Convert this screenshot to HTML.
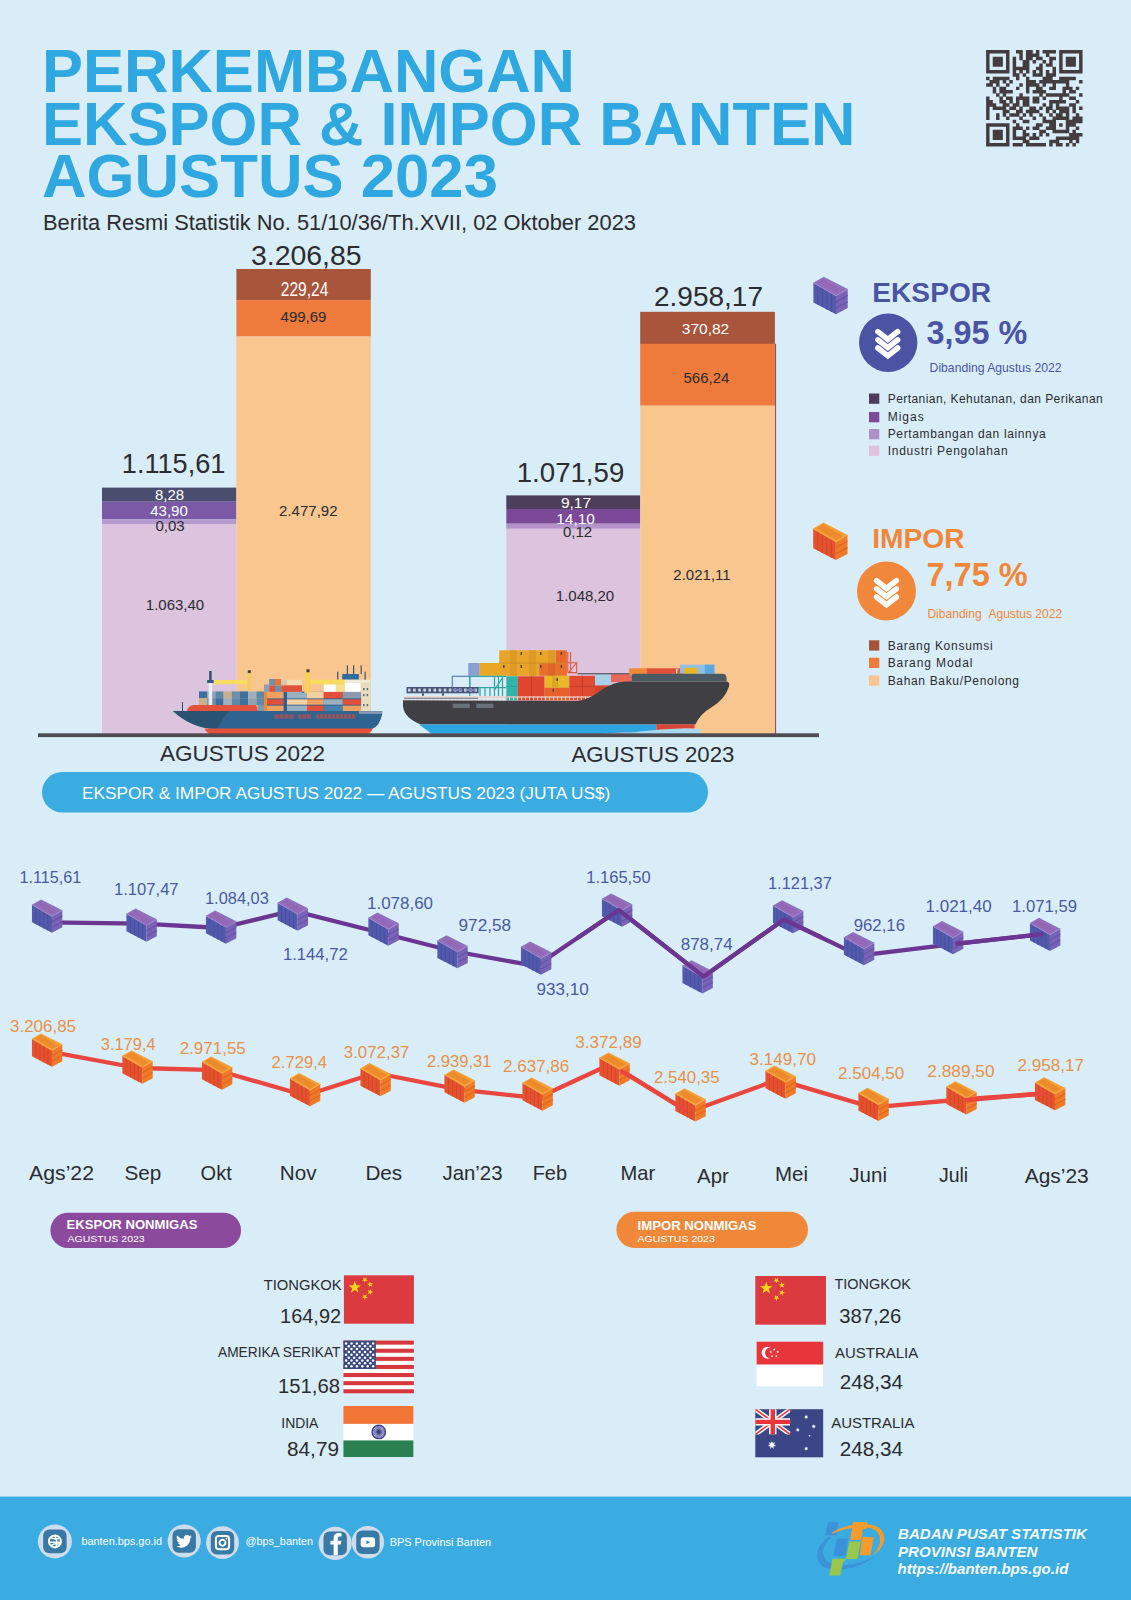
<!DOCTYPE html>
<html lang="id"><head><meta charset="utf-8"><title>Perkembangan Ekspor &amp; Impor Banten Agustus 2023</title>
<style>
html,body{margin:0;padding:0;background:#d9edf8;}
body{width:1131px;height:1600px;overflow:hidden;font-family:"Liberation Sans",sans-serif;}
svg{display:block;font-family:"Liberation Sans",sans-serif;}
</style></head><body>
<svg width="1131" height="1600" viewBox="0 0 1131 1600">
<rect x="0" y="0" width="1131" height="1600" fill="#d9edf8" />
<defs>
<g id="cP">
<polygon points="-17,-12.7 -6.7,-18.7 17.3,-6.4 5.6,0.4" fill="#8e72c2"/><polygon points="-14.4,-12.9 -7.0,-17.2 13.3,-5.4 5.9,-1.1" fill="#9a6cba"/><path d="M-11.9,-13.6 L7.1,-2.6 M-10.0,-14.7 L8.9,-3.6 M-8.2,-15.7 L10.8,-4.7" stroke="#8a60ae" stroke-width="0.8" fill="none"/>
<polygon points="-17,-12.7 5.6,0.4 5.6,18.8 -17,7" fill="#535aac"/>
<polygon points="5.6,0.4 17.3,-6.4 17.3,12.7 5.6,18.8" fill="#7863b6"/>
<path d="M-12.5,-10 V9.3 M-8,-7.4 V11.7 M-3.5,-4.8 V14 M1,-2.2 V16.4" stroke="#474fa4" stroke-width="1.2" fill="none"/>
<path d="M5.6,6.5 L17.3,0 M5.6,12.6 L17.3,6.3" stroke="#6852aa" stroke-width="1.3" fill="none"/>
<path d="M-17,-12.7 L5.6,0.4 L17.3,-6.4" stroke="#a68acc" stroke-width="1" fill="none"/>
</g>
<g id="cO">
<polygon points="-17,-12.7 -6.7,-18.7 17.3,-6.4 5.6,0.4" fill="#f5a034"/><polygon points="-14.4,-12.9 -7.0,-17.2 13.3,-5.4 5.9,-1.1" fill="#f0902c"/><path d="M-11.9,-13.6 L7.1,-2.6 M-10.0,-14.7 L8.9,-3.6 M-8.2,-15.7 L10.8,-4.7" stroke="#e8842a" stroke-width="0.8" fill="none"/>
<polygon points="-17,-12.7 5.6,0.4 5.6,18.8 -17,7" fill="#e4532d"/>
<polygon points="5.6,0.4 17.3,-6.4 17.3,12.7 5.6,18.8" fill="#ef7a28"/>
<path d="M-12.5,-10 V9.3 M-8,-7.4 V11.7 M-3.5,-4.8 V14 M1,-2.2 V16.4" stroke="#d8452a" stroke-width="1.2" fill="none"/>
<path d="M5.6,6.5 L17.3,0 M5.6,12.6 L17.3,6.3" stroke="#e06420" stroke-width="1.3" fill="none"/>
<path d="M-17,-12.7 L5.6,0.4 L17.3,-6.4" stroke="#f7ae4a" stroke-width="1" fill="none"/>
</g>
</defs>
<text x="42" y="91.7" font-size="60.5" fill="#2fa8e1" font-weight="bold" textLength="533" lengthAdjust="spacingAndGlyphs" >PERKEMBANGAN</text>
<text x="42" y="144.7" font-size="60.5" fill="#2fa8e1" font-weight="bold" textLength="813.5" lengthAdjust="spacingAndGlyphs" >EKSPOR &amp; IMPOR BANTEN</text>
<text x="42" y="197.2" font-size="60.5" fill="#2fa8e1" font-weight="bold" textLength="456" lengthAdjust="spacingAndGlyphs" >AGUSTUS 2023</text>
<text x="43" y="230" font-size="21.8" fill="#2b2b30" textLength="593" lengthAdjust="spacingAndGlyphs" >Berita Resmi Statistik No. 51/10/36/Th.XVII, 02 Oktober 2023</text>
<rect x="102" y="487.6" width="134.4" height="14.1" fill="#4b4d6e" />
<rect x="102" y="501.7" width="134.4" height="17.7" fill="#7a5aa6" />
<rect x="102" y="519.4" width="134.4" height="4.6" fill="#b59ad0" />
<rect x="102" y="524" width="134.4" height="211" fill="#dcc3de" />
<rect x="236.4" y="269" width="134.4" height="31.1" fill="#a8553c" />
<rect x="236.4" y="300.1" width="134.4" height="36.4" fill="#ee7b3c" />
<rect x="236.4" y="336.5" width="134.4" height="398.5" fill="#f9c690" />
<rect x="506.3" y="495.4" width="134" height="13.6" fill="#4d3f5c" />
<rect x="506.3" y="509" width="134" height="14.7" fill="#7c4898" />
<rect x="506.3" y="523.7" width="134" height="5.1" fill="#b393c9" />
<rect x="506.3" y="528.8" width="134" height="206.20000000000005" fill="#dcc3de" />
<rect x="640.2" y="311.8" width="134.7" height="32.2" fill="#a8553c" />
<rect x="640.2" y="343.8" width="135.2" height="61.9" fill="#ee7b3c" />
<rect x="640.2" y="405.7" width="135.2" height="329.3" fill="#f9c690" />
<rect x="775.1" y="343.8" width="1" height="391.2" fill="#7a4a5c" />
<text x="306.3" y="264.8" font-size="28.4" fill="#2b2b30" text-anchor="middle" textLength="110.6" lengthAdjust="spacingAndGlyphs" >3.206,85</text>
<text x="173.6" y="473.3" font-size="28.4" fill="#2b2b30" text-anchor="middle" textLength="103.6" lengthAdjust="spacingAndGlyphs" >1.115,61</text>
<text x="708.5" y="306" font-size="28.4" fill="#2b2b30" text-anchor="middle" textLength="109" lengthAdjust="spacingAndGlyphs" >2.958,17</text>
<text x="570.5" y="481.6" font-size="28.4" fill="#2b2b30" text-anchor="middle" textLength="107.5" lengthAdjust="spacingAndGlyphs" >1.071,59</text>
<text x="304.6" y="295.5" font-size="19.5" fill="#fff" text-anchor="middle" textLength="47.5" lengthAdjust="spacingAndGlyphs" >229,24</text>
<text x="303.5" y="322.3" font-size="15" fill="#2b2b30" text-anchor="middle" >499,69</text>
<text x="308.3" y="516" font-size="15" fill="#2b2b30" text-anchor="middle" >2.477,92</text>
<text x="169.5" y="499.5" font-size="15" fill="#fff" text-anchor="middle" >8,28</text>
<text x="169" y="516" font-size="15" fill="#fff" text-anchor="middle" >43,90</text>
<text x="170" y="531.2" font-size="15" fill="#2b2b30" text-anchor="middle" >0,03</text>
<text x="175" y="609.5" font-size="15" fill="#2b2b30" text-anchor="middle" >1.063,40</text>
<text x="705.5" y="334" font-size="15.5" fill="#fff" text-anchor="middle" >370,82</text>
<text x="706.4" y="382.8" font-size="15" fill="#2b2b30" text-anchor="middle" >566,24</text>
<text x="576" y="508.2" font-size="15.5" fill="#fff" text-anchor="middle" >9,17</text>
<text x="575.6" y="523.6" font-size="15.5" fill="#fff" text-anchor="middle" >14,10</text>
<text x="577.6" y="537.4" font-size="15" fill="#2b2b30" text-anchor="middle" >0,12</text>
<text x="585" y="601" font-size="15" fill="#2b2b30" text-anchor="middle" >1.048,20</text>
<text x="702" y="579.5" font-size="15" fill="#2b2b30" text-anchor="middle" >2.021,11</text>
<g id="ship1">
<rect x="199" y="691.4" width="8.2" height="6.8" fill="#3f6f9a" />
<rect x="199" y="698.2" width="8.2" height="6.8" fill="#c9b089" />
<rect x="207.2" y="691.4" width="8.2" height="6.8" fill="#8fa3b5" />
<rect x="207.2" y="698.2" width="8.2" height="6.8" fill="#6d8fa8" />
<rect x="215.4" y="691.4" width="8.2" height="6.8" fill="#5e88a8" />
<rect x="215.4" y="698.2" width="8.2" height="6.8" fill="#3f6f9a" />
<rect x="223.6" y="691.4" width="8.2" height="6.8" fill="#c9b089" />
<rect x="223.6" y="698.2" width="8.2" height="6.8" fill="#9db0bf" />
<rect x="231.8" y="691.4" width="8.2" height="6.8" fill="#6d8fa8" />
<rect x="231.8" y="698.2" width="8.2" height="6.8" fill="#5e88a8" />
<rect x="240.0" y="691.4" width="8.2" height="6.8" fill="#3f6f9a" />
<rect x="240.0" y="698.2" width="8.2" height="6.8" fill="#3f6f9a" />
<rect x="248.2" y="691.4" width="8.2" height="6.8" fill="#9db0bf" />
<rect x="248.2" y="698.2" width="8.2" height="6.8" fill="#8fa3b5" />
<rect x="256.4" y="691.4" width="8.2" height="6.8" fill="#5e88a8" />
<rect x="256.4" y="698.2" width="8.2" height="6.8" fill="#5e88a8" />
<rect x="264" y="691.8" width="98.9" height="19.7" fill="#2f5f8c" />
<rect x="264" y="691.8" width="19.6" height="6.6" fill="#f0a060" />
<rect x="287" y="691.8" width="20" height="6.6" fill="#9ab0c0" />
<rect x="307" y="691.8" width="16.8" height="6.6" fill="#f5d0a0" />
<rect x="323.8" y="691.8" width="19.0" height="6.6" fill="#e0503a" />
<rect x="342.8" y="691.8" width="20.1" height="6.6" fill="#8a9bb0" />
<rect x="264" y="699.3" width="19.6" height="5.4" fill="#e0503a" />
<rect x="287" y="699.3" width="20" height="5.4" fill="#f5d0a0" />
<rect x="307" y="699.3" width="16.8" height="5.4" fill="#f0a060" />
<rect x="323.8" y="699.3" width="19.0" height="5.4" fill="#9ab0c0" />
<rect x="342.8" y="699.3" width="20.1" height="5.4" fill="#e0503a" />
<rect x="264" y="705.6" width="19.6" height="5.9" fill="#f0a060" />
<rect x="287" y="705.6" width="20" height="5.9" fill="#9ab0c0" />
<rect x="307" y="705.6" width="16.8" height="5.9" fill="#e0503a" />
<rect x="323.8" y="705.6" width="19.0" height="5.9" fill="#4a80b0" />
<rect x="342.8" y="705.6" width="20.1" height="5.9" fill="#f0a060" />
<rect x="264" y="691.8" width="3" height="19.7" fill="#e88a3a" />
<rect x="264" y="684.5" width="5.2" height="7.3" fill="#8aa0b5" />
<rect x="269.2" y="679" width="5.8" height="6.5" fill="#6d8fa8" />
<rect x="275" y="679" width="6.3" height="6.5" fill="#e8753a" />
<rect x="281.3" y="679.5" width="5.7" height="5.5" fill="#d8c8a8" />
<rect x="269.2" y="685.5" width="5.8" height="6.3" fill="#e0503a" />
<rect x="275" y="685.5" width="6.3" height="6.3" fill="#6d8fa8" />
<rect x="287" y="679.8" width="15" height="5" fill="#f5dcb0" />
<rect x="281.3" y="685.4" width="20.7" height="6.4" fill="#e0503a" />
<rect x="302" y="691.8" width="2" height="1" fill="#2f5f8c" />
<rect x="323.8" y="684.3" width="12.6" height="7.5" fill="#ffffff" />
<rect x="344.5" y="682.6" width="16.1" height="9.2" fill="#ffffff" />
<rect x="342.2" y="674" width="16.7" height="5.7" fill="#2f6fa0" />
<rect x="344.5" y="679.7" width="25.8" height="3.2" fill="#f0ead8" />
<rect x="346.8" y="665.3" width="1.1" height="8.7" fill="#2c4a6a" />
<rect x="353.1" y="665.3" width="1.1" height="8.7" fill="#2c4a6a" />
<rect x="360.6" y="665.3" width="1.1" height="8.7" fill="#2c4a6a" />
<rect x="337.2" y="671.7" width="1.1" height="8" fill="#2c4a6a" />
<rect x="364.6" y="671.7" width="1.1" height="8" fill="#2c4a6a" />
<rect x="361.1" y="682.6" width="9.2" height="28.7" fill="#e8dcc0" />
<rect x="363" y="688" width="1.6" height="2.2" fill="#5d6f7a" />
<rect x="366.6" y="688" width="1.6" height="2.2" fill="#5d6f7a" />
<rect x="363" y="694" width="1.6" height="2.2" fill="#5d6f7a" />
<rect x="366.6" y="694" width="1.6" height="2.2" fill="#5d6f7a" />
<rect x="363" y="704" width="1.6" height="2.2" fill="#5d6f7a" />
<rect x="366.6" y="704" width="1.6" height="2.2" fill="#5d6f7a" />
<rect x="213.8" y="680" width="37.4" height="4.3" fill="#f8dc60" />
<rect x="247.3" y="672.6" width="3.9" height="17.6" fill="#f2c86a" />
<rect x="247.8" y="670.3" width="3" height="2.6" fill="#3a3a3a" />
<rect x="310.6" y="679.7" width="33.9" height="4.6" fill="#f8dc60" />
<rect x="304.8" y="672.2" width="5.8" height="20.8" fill="#f6d058" />
<rect x="306.5" y="669.3" width="3" height="3" fill="#3a3a3a" />
<rect x="335.8" y="684.3" width="8.7" height="7.5" fill="#f8e088" />
<rect x="209.2" y="671" width="2.4" height="10" fill="#2c4a6a" />
<rect x="207.2" y="680" width="6.4" height="3" fill="#2f5580" />
<rect x="208.6" y="683" width="3.6" height="23" fill="#e8eef2" />
<rect x="257.6" y="705" width="6.4" height="6" fill="#7f9ab0" />
<rect x="182" y="702" width="1" height="9" fill="#2c4a6a" />
<path d="M187,711 Q188,705.5 194,705 L256,705 Q258,708 257.6,711 Z" fill="#e2523d"/>
<path d="M173,711 L382.2,711 L382.2,714 Q380,726 372,729 L215,729 Q190,727 173,711 Z" fill="#2f6491"/>
<path d="M229,711 Q221,721 217,729 L213,729 Q190,727 173,711 Z" fill="#2a5273"/>
<rect x="274.5" y="714.2" width="4" height="4.4" fill="#9c525c" />
<rect x="279.5" y="714.2" width="4" height="4.4" fill="#9c525c" />
<rect x="284.5" y="714.2" width="4" height="4.4" fill="#9c525c" />
<rect x="289.5" y="714.2" width="4" height="4.4" fill="#9c525c" />
<rect x="298" y="714.2" width="3.6" height="4.4" fill="#9c525c" />
<rect x="302.5" y="714.2" width="3.6" height="4.4" fill="#9c525c" />
<rect x="307" y="714.2" width="3.6" height="4.4" fill="#9c525c" />
<rect x="316" y="714.2" width="3.2" height="4.4" fill="#9c525c" />
<rect x="320" y="714.2" width="3.2" height="4.4" fill="#9c525c" />
<rect x="324" y="714.2" width="3.2" height="4.4" fill="#9c525c" />
<rect x="328" y="714.2" width="3.2" height="4.4" fill="#9c525c" />
<rect x="332" y="714.2" width="3.2" height="4.4" fill="#9c525c" />
<rect x="336" y="714.2" width="3.2" height="4.4" fill="#9c525c" />
<rect x="340" y="714.2" width="3.2" height="4.4" fill="#9c525c" />
<rect x="344" y="714.2" width="3.2" height="4.4" fill="#9c525c" />
<rect x="348" y="714.2" width="3.2" height="4.4" fill="#9c525c" />
<rect x="352" y="714.2" width="3.2" height="4.4" fill="#9c525c" />
<path d="M204.6,728.5 L373,728.5 Q371,733 366,734.2 L212,734.2 Q206,733 204.6,728.5 Z" fill="#e2523d"/>
<rect x="358.9" y="711.2" width="23" height="2.6" fill="#8a9bb5" />
</g>
<g id="ship2">
<rect x="468.2" y="663" width="11.5" height="12.8" fill="#8a9fd4" />
<rect x="479.7" y="663" width="20.3" height="12.8" fill="#e9a824" />
<rect x="499.2" y="650.3" width="56.5" height="12.8" fill="#e9a52a" />
<rect x="555.7" y="650.3" width="11.2" height="12.8" fill="#e9682a" />
<rect x="499.2" y="663.1" width="40" height="12.7" fill="#e9a52a" />
<rect x="539.2" y="663.1" width="27.7" height="12.7" fill="#e8702c" />
<rect x="510" y="650.3" width="7" height="12.8" fill="#dd9a26" />
<rect x="529" y="650.3" width="7" height="12.8" fill="#dd9a26" />
<rect x="548" y="650.3" width="7" height="12.8" fill="#dd9a26" />
<rect x="510" y="663.1" width="7" height="12.7" fill="#dd9a26" />
<rect x="529" y="663.1" width="7" height="12.7" fill="#dd9a26" />
<rect x="548" y="663.1" width="7" height="12.7" fill="#de6428" />
<rect x="520.5" y="652" width="1.6" height="3" fill="#5a4a3a" />
<rect x="520.5" y="665" width="1.6" height="3" fill="#5a4a3a" />
<rect x="540" y="652" width="1.6" height="3" fill="#5a4a3a" />
<rect x="540" y="665" width="1.6" height="3" fill="#5a4a3a" />
<rect x="560.5" y="652" width="1.6" height="3" fill="#5a4a3a" />
<rect x="560.5" y="665" width="1.6" height="3" fill="#5a4a3a" />
<rect x="503" y="665" width="1.6" height="3" fill="#5a4a3a" />
<rect x="499.2" y="662.6" width="67.7" height="0.9" fill="#c98a22" />
<path d="M567.8,652 V672.6 M570.6,652 V672.6 M567.8,662.8 H576.7 V672.6 H567.8 M569,672 L576,663.5" stroke="#e4573d" stroke-width="1.1" fill="none"/>
<rect x="506.4" y="676.3" width="11.4" height="24.2" fill="#2fb5a5" />
<rect x="506.4" y="686" width="11.4" height="1" fill="#28a090" />
<rect x="517.8" y="676.3" width="26.8" height="24.2" fill="#e0452f" />
<rect x="531" y="676.3" width="1" height="24.2" fill="#c63c28" />
<rect x="544.6" y="675.8" width="24.7" height="12" fill="#e8b828" />
<rect x="544.6" y="687.7" width="24.7" height="12.8" fill="#e8602a" />
<rect x="552" y="676.5" width="6" height="11" fill="#dca820" />
<rect x="556.5" y="678" width="1.5" height="3" fill="#5a4a3a" />
<rect x="552.5" y="689" width="1.5" height="3" fill="#5a4a3a" />
<rect x="569.3" y="675.8" width="25.7" height="24.7" fill="#e04a32" />
<rect x="582" y="675.8" width="1" height="24.7" fill="#c63c28" />
<rect x="569.3" y="686" width="25.7" height="1" fill="#c63c28" />
<rect x="595" y="674.2" width="16" height="11.2" fill="#a8d0e8" />
<rect x="611" y="674.2" width="20.6" height="8" fill="#e8685a" />
<rect x="595" y="685.4" width="20" height="15" fill="#cf4630" />
<rect x="577.5" y="673.2" width="52" height="1.1" fill="#4a4a52" />
<rect x="629.2" y="668.3" width="17.5" height="6" fill="#f0883a" />
<rect x="646.7" y="668.3" width="36.6" height="5.6" fill="#e0503a" />
<rect x="680" y="664.7" width="34.4" height="9" fill="#8ec0e8" />
<rect x="704.7" y="664.7" width="9.7" height="9" fill="#5aa8e0" />
<rect x="684" y="667.8" width="13.7" height="6" fill="#e8b828" />
<rect x="676" y="669" width="1.5" height="4.5" fill="#f4e0c0" />
<rect x="452.3" y="676.3" width="17.5" height="11.4" fill="none" stroke="#5a7fc0" stroke-width="1.2"/>
<path d="M469.8,676.3 H506 M469.8,676.3 V696 M494.5,676.3 V696 M498.5,676.3 V696 M502.5,676.3 V696 M480,687.7 V696 M485,687.7 V696 M490,687.7 V696 M469.8,687.7 H506 M494.5,690 L503,677" stroke="#2fa5a0" stroke-width="1.2" fill="none"/>
<rect x="406.5" y="687" width="72.1" height="6.3" fill="#4a5575" />
<rect x="408.0" y="688.6" width="2.6" height="3" fill="#c8d4e4" />
<rect x="413.1" y="688.6" width="2.6" height="3" fill="#c8d4e4" />
<rect x="418.2" y="688.6" width="2.6" height="3" fill="#c8d4e4" />
<rect x="423.3" y="688.6" width="2.6" height="3" fill="#c8d4e4" />
<rect x="428.4" y="688.6" width="2.6" height="3" fill="#c8d4e4" />
<rect x="433.5" y="688.6" width="2.6" height="3" fill="#c8d4e4" />
<rect x="438.6" y="688.6" width="2.6" height="3" fill="#c8d4e4" />
<rect x="443.7" y="688.6" width="2.6" height="3" fill="#c8d4e4" />
<rect x="448.8" y="688.6" width="2.6" height="3" fill="#c8d4e4" />
<rect x="453.9" y="688.6" width="2.6" height="3" fill="#c8d4e4" />
<rect x="459.0" y="688.6" width="2.6" height="3" fill="#c8d4e4" />
<rect x="464.1" y="688.6" width="2.6" height="3" fill="#c8d4e4" />
<rect x="469.2" y="688.6" width="2.6" height="3" fill="#c8d4e4" />
<rect x="474.3" y="688.6" width="2.6" height="3" fill="#c8d4e4" />
<rect x="422" y="693.3" width="2" height="2.4" fill="#4a5575" />
<rect x="442" y="693.3" width="2" height="2.4" fill="#4a5575" />
<rect x="453" y="689" width="9" height="2" fill="#7a86b8" />
<rect x="466.5" y="689" width="9" height="2" fill="#7a86b8" />
<rect x="404" y="696.4" width="190" height="1.3" fill="#f0c8c0" />
<rect x="405" y="696.4" width="1.1" height="4" fill="#f0d0c8" />
<rect x="409" y="696.4" width="1.1" height="4" fill="#f0d0c8" />
<rect x="413" y="696.4" width="1.1" height="4" fill="#f0d0c8" />
<rect x="417" y="696.4" width="1.1" height="4" fill="#f0d0c8" />
<rect x="421" y="696.4" width="1.1" height="4" fill="#f0d0c8" />
<rect x="425" y="696.4" width="1.1" height="4" fill="#f0d0c8" />
<rect x="429" y="696.4" width="1.1" height="4" fill="#f0d0c8" />
<rect x="433" y="696.4" width="1.1" height="4" fill="#f0d0c8" />
<rect x="437" y="696.4" width="1.1" height="4" fill="#f0d0c8" />
<rect x="441" y="696.4" width="1.1" height="4" fill="#f0d0c8" />
<rect x="445" y="696.4" width="1.1" height="4" fill="#f0d0c8" />
<rect x="449" y="696.4" width="1.1" height="4" fill="#f0d0c8" />
<rect x="453" y="696.4" width="1.1" height="4" fill="#f0d0c8" />
<rect x="457" y="696.4" width="1.1" height="4" fill="#f0d0c8" />
<rect x="461" y="696.4" width="1.1" height="4" fill="#f0d0c8" />
<rect x="465" y="696.4" width="1.1" height="4" fill="#f0d0c8" />
<rect x="469" y="696.4" width="1.1" height="4" fill="#f0d0c8" />
<rect x="473" y="696.4" width="1.1" height="4" fill="#f0d0c8" />
<rect x="477" y="696.4" width="1.1" height="4" fill="#f0d0c8" />
<rect x="481" y="696.4" width="1.1" height="4" fill="#f0d0c8" />
<rect x="485" y="696.4" width="1.1" height="4" fill="#f0d0c8" />
<rect x="489" y="696.4" width="1.1" height="4" fill="#f0d0c8" />
<rect x="493" y="696.4" width="1.1" height="4" fill="#f0d0c8" />
<rect x="497" y="696.4" width="1.1" height="4" fill="#f0d0c8" />
<rect x="501" y="696.4" width="1.1" height="4" fill="#f0d0c8" />
<rect x="505" y="696.4" width="1.1" height="4" fill="#f0d0c8" />
<rect x="509" y="696.4" width="1.1" height="4" fill="#f0d0c8" />
<rect x="513" y="696.4" width="1.1" height="4" fill="#f0d0c8" />
<rect x="517" y="696.4" width="1.1" height="4" fill="#f0d0c8" />
<rect x="521" y="696.4" width="1.1" height="4" fill="#f0d0c8" />
<rect x="525" y="696.4" width="1.1" height="4" fill="#f0d0c8" />
<rect x="529" y="696.4" width="1.1" height="4" fill="#f0d0c8" />
<rect x="533" y="696.4" width="1.1" height="4" fill="#f0d0c8" />
<rect x="537" y="696.4" width="1.1" height="4" fill="#f0d0c8" />
<rect x="541" y="696.4" width="1.1" height="4" fill="#f0d0c8" />
<rect x="545" y="696.4" width="1.1" height="4" fill="#f0d0c8" />
<rect x="549" y="696.4" width="1.1" height="4" fill="#f0d0c8" />
<rect x="553" y="696.4" width="1.1" height="4" fill="#f0d0c8" />
<rect x="557" y="696.4" width="1.1" height="4" fill="#f0d0c8" />
<rect x="561" y="696.4" width="1.1" height="4" fill="#f0d0c8" />
<rect x="565" y="696.4" width="1.1" height="4" fill="#f0d0c8" />
<rect x="569" y="696.4" width="1.1" height="4" fill="#f0d0c8" />
<rect x="573" y="696.4" width="1.1" height="4" fill="#f0d0c8" />
<rect x="577" y="696.4" width="1.1" height="4" fill="#f0d0c8" />
<rect x="581" y="696.4" width="1.1" height="4" fill="#f0d0c8" />
<rect x="585" y="696.4" width="1.1" height="4" fill="#f0d0c8" />
<rect x="589" y="696.4" width="1.1" height="4" fill="#f0d0c8" />
<rect x="404" y="697.8" width="74" height="1" fill="#6a7088" />
<path d="M403,700.2 L577.500,701 Q588,699.500 598,692.500 Q612,681.400 626,681.400 L726,681.400 Q730.500,681.400 728.800,687 Q725,699 712,707 Q700,714 695.300,724.400 L421,724.400 Q404,718 403,706 Z" fill="#3f3f44"/>
<path d="M631.6,681.4 V676 Q631.6,673.7 634,673.7 L722,673.7 Q726.6,673.7 726.6,678 V681.4 Z" fill="#4b5a62"/>
<rect x="452.6" y="703.7" width="17.2" height="4.3" fill="#687078" />
<rect x="476.2" y="703.7" width="17.2" height="4.3" fill="#687078" />
<path d="M418.9,724.4 L656,724.4 L656,732.5 L623,732.500 L600,733.800 L431.600,733.800 Z" fill="#2da5e0"/>
<path d="M656.3,724.4 L694.5,724.4 L694.5,728.500 Q675,728 656.300,730 Z" fill="#d8453a"/>
<path d="M623.700,734 Q640,731 656,730 Q680,727.500 700.800,729 L700.800,734 Z" fill="#a8d8f0"/>
</g>
<rect x="38" y="733.3" width="781" height="3.8" fill="#4c4c52" />
<text x="160" y="761" font-size="22.3" fill="#2b2b30" textLength="165" lengthAdjust="spacingAndGlyphs" >AGUSTUS 2022</text>
<text x="571.4" y="762" font-size="22.3" fill="#2b2b30" textLength="163" lengthAdjust="spacingAndGlyphs" >AGUSTUS 2023</text>
<use href="#cP" x="830.4" y="295.4"/>
<text x="872.3" y="302.3" font-size="27.5" fill="#4b53a4" font-weight="bold" textLength="118.8" lengthAdjust="spacingAndGlyphs" >EKSPOR</text>
<circle cx="888.2" cy="342.7" r="29.2" fill="#4b53a4"/>
<path d="M877.9,331.6 L887.8,339.4 L897.7,331.6" stroke="#fff" stroke-width="5.5" fill="none" stroke-linecap="round" stroke-linejoin="miter"/>
<path d="M877.9,339.8 L887.8,347.6 L897.7,339.8" stroke="#fff" stroke-width="5.5" fill="none" stroke-linecap="round" stroke-linejoin="miter"/>
<path d="M877.9,348.0 L887.8,355.8 L897.7,348.0" stroke="#fff" stroke-width="5.5" fill="none" stroke-linecap="round" stroke-linejoin="miter"/>
<text x="926.4" y="344.3" font-size="32.7" fill="#4b53a4" font-weight="bold" textLength="100.8" lengthAdjust="spacingAndGlyphs" >3,95 %</text>
<text x="929.6" y="371.9" font-size="12.2" fill="#4b53a4" textLength="132" lengthAdjust="spacingAndGlyphs" >Dibanding Agustus 2022</text>
<rect x="869" y="393.5" width="10.3" height="10.3" fill="#4d3a5c" />
<text x="887.7" y="403.4" font-size="12" fill="#2b2b30" textLength="215" lengthAdjust="spacing" >Pertanian, Kehutanan, dan Perikanan</text>
<rect x="869" y="412" width="10.3" height="10.3" fill="#7d489a" />
<text x="887.7" y="421.4" font-size="12" fill="#2b2b30" textLength="36" lengthAdjust="spacing" >Migas</text>
<rect x="869" y="429" width="10.3" height="10.3" fill="#b08fc7" />
<text x="887.7" y="437.8" font-size="12" fill="#2b2b30" textLength="158" lengthAdjust="spacing" >Pertambangan dan lainnya</text>
<rect x="869" y="445.6" width="10.3" height="10.3" fill="#e0c2dc" />
<text x="887.7" y="454.6" font-size="12" fill="#2b2b30" textLength="120" lengthAdjust="spacing" >Industri Pengolahan</text>
<use href="#cO" x="830.2" y="541.3"/>
<text x="872.2" y="548.1" font-size="27.5" fill="#f0873a" font-weight="bold" textLength="92.5" lengthAdjust="spacingAndGlyphs" >IMPOR</text>
<circle cx="886.5" cy="591" r="29.5" fill="#f0873a"/>
<path d="M876.6,580.6 L886.5,588.4 L896.4,580.6" stroke="#fff" stroke-width="5.5" fill="none" stroke-linecap="round" stroke-linejoin="miter"/>
<path d="M876.6,588.8 L886.5,596.6 L896.4,588.8" stroke="#fff" stroke-width="5.5" fill="none" stroke-linecap="round" stroke-linejoin="miter"/>
<path d="M876.6,597.0 L886.5,604.8 L896.4,597.0" stroke="#fff" stroke-width="5.5" fill="none" stroke-linecap="round" stroke-linejoin="miter"/>
<text x="926.5" y="586.3" font-size="32.7" fill="#f0873a" font-weight="bold" textLength="101.2" lengthAdjust="spacingAndGlyphs" >7,75 %</text>
<text x="927.4" y="618" font-size="12.2" fill="#f0873a" textLength="134.8" lengthAdjust="spacingAndGlyphs" >Dibanding  Agustus 2022</text>
<rect x="869" y="640.3" width="10.3" height="10.3" fill="#a5523a" />
<text x="887.7" y="649.6" font-size="12" fill="#2b2b30" textLength="105" lengthAdjust="spacing" >Barang Konsumsi</text>
<rect x="869" y="657.7" width="10.3" height="10.3" fill="#f07a3a" />
<text x="887.7" y="667" font-size="12" fill="#2b2b30" textLength="84.7" lengthAdjust="spacing" >Barang Modal</text>
<rect x="869" y="675.4" width="10.3" height="10.3" fill="#f9c48e" />
<text x="887.7" y="684.7" font-size="12" fill="#2b2b30" textLength="131.3" lengthAdjust="spacing" >Bahan Baku/Penolong</text>
<rect x="42" y="772" width="666" height="40.5" fill="#3aace2" rx="20.25"/>
<text x="81.9" y="799.2" font-size="17.2" fill="#fff" textLength="528.5" lengthAdjust="spacingAndGlyphs" >EKSPOR &amp; IMPOR AGUSTUS 2022 — AGUSTUS 2023 (JUTA US$)</text>
<polyline points="47.0,922.3 141.5,923.7 221.0,928.0 292.7,910.7 383.4,933.5 452.4,951.0 536.0,966.0 618.8,910.0 703.7,976.6 784.0,919.5 859.0,955.6 957.4,943.7 1042.2,934.2" fill="none" stroke="#6b3592" stroke-width="4.3" stroke-linejoin="round" stroke-linecap="round"/>
<use href="#cP" transform="translate(47,916) scale(0.885)"/>
<use href="#cP" transform="translate(141.5,925) scale(0.885)"/>
<use href="#cP" transform="translate(221,927) scale(0.885)"/>
<use href="#cP" transform="translate(292.7,914) scale(0.885)"/>
<use href="#cP" transform="translate(383.4,929) scale(0.885)"/>
<use href="#cP" transform="translate(452.4,951.7) scale(0.885)"/>
<use href="#cP" transform="translate(536,958) scale(0.885)"/>
<use href="#cP" transform="translate(617,910) scale(0.885)"/>
<use href="#cP" transform="translate(697.5,976.8) scale(0.885)"/>
<use href="#cP" transform="translate(788,916.7) scale(0.885)"/>
<use href="#cP" transform="translate(859,948.5) scale(0.885)"/>
<use href="#cP" transform="translate(948,937.5) scale(0.885)"/>
<use href="#cP" transform="translate(1045,934.3) scale(0.885)"/>
<polyline points="577.4,938.0 618.8,910.0 703.7,976.6 784.0,919.5 821.5,937.5" fill="none" stroke="#6b3592" stroke-width="4.3" stroke-linejoin="round" stroke-linecap="butt"/>
<polyline points="957.4,943.7 1042.2,934.2" fill="none" stroke="#6b3592" stroke-width="4.3" stroke-linejoin="round" stroke-linecap="round"/>
<polyline points="47.0,1051.1 137.4,1068.0 217.0,1070.2 305.0,1095.5 375.5,1073.0 459.5,1089.7 537.5,1098.0 611.0,1064.0 688.5,1112.0 778.0,1079.6 872.2,1107.4 961.4,1099.5 1043.7,1093.5" fill="none" stroke="#e8463f" stroke-width="4.3" stroke-linejoin="round" stroke-linecap="round"/>
<use href="#cO" transform="translate(47,1050) scale(0.885)"/>
<use href="#cO" transform="translate(137.4,1067) scale(0.885)"/>
<use href="#cO" transform="translate(217,1073) scale(0.885)"/>
<use href="#cO" transform="translate(305,1089.6) scale(0.885)"/>
<use href="#cO" transform="translate(375.5,1079.6) scale(0.885)"/>
<use href="#cO" transform="translate(459.5,1086) scale(0.885)"/>
<use href="#cO" transform="translate(537.5,1094) scale(0.885)"/>
<use href="#cO" transform="translate(614.4,1069) scale(0.885)"/>
<use href="#cO" transform="translate(690.4,1104.9) scale(0.885)"/>
<use href="#cO" transform="translate(780.5,1082) scale(0.885)"/>
<use href="#cO" transform="translate(873.4,1104.3) scale(0.885)"/>
<use href="#cO" transform="translate(961.4,1097.8) scale(0.885)"/>
<use href="#cO" transform="translate(1050,1093.7) scale(0.885)"/>
<polyline points="622.0,1071.4 685.0,1110.0" fill="none" stroke="#e8463f" stroke-width="4.3" stroke-linejoin="round" stroke-linecap="round"/>
<polyline points="967.0,1100.0 1043.7,1093.5" fill="none" stroke="#e8463f" stroke-width="4.3" stroke-linejoin="round" stroke-linecap="round"/>
<text x="19.5" y="882.5" font-size="16.6" fill="#4a5aa2" textLength="61.8" lengthAdjust="spacingAndGlyphs" >1.115,61</text>
<text x="114" y="895" font-size="16.6" fill="#4a5aa2" textLength="64.6" lengthAdjust="spacingAndGlyphs" >1.107,47</text>
<text x="205" y="903.8" font-size="16.6" fill="#4a5aa2" textLength="63.8" lengthAdjust="spacingAndGlyphs" >1.084,03</text>
<text x="283" y="959.6" font-size="16.6" fill="#4a5aa2" textLength="64.7" lengthAdjust="spacingAndGlyphs" >1.144,72</text>
<text x="367" y="909.4" font-size="16.6" fill="#4a5aa2" textLength="66" lengthAdjust="spacingAndGlyphs" >1.078,60</text>
<text x="458.6" y="931.3" font-size="16.6" fill="#4a5aa2" textLength="52.4" lengthAdjust="spacingAndGlyphs" >972,58</text>
<text x="536.4" y="995" font-size="16.6" fill="#4a5aa2" textLength="52.3" lengthAdjust="spacingAndGlyphs" >933,10</text>
<text x="586.2" y="883" font-size="16.6" fill="#4a5aa2" textLength="64.4" lengthAdjust="spacingAndGlyphs" >1.165,50</text>
<text x="680.7" y="949.7" font-size="16.6" fill="#4a5aa2" textLength="52" lengthAdjust="spacingAndGlyphs" >878,74</text>
<text x="768" y="889" font-size="16.6" fill="#4a5aa2" textLength="63.8" lengthAdjust="spacingAndGlyphs" >1.121,37</text>
<text x="853.7" y="930.6" font-size="16.6" fill="#4a5aa2" textLength="51.3" lengthAdjust="spacingAndGlyphs" >962,16</text>
<text x="925.5" y="912" font-size="16.6" fill="#4a5aa2" textLength="66.2" lengthAdjust="spacingAndGlyphs" >1.021,40</text>
<text x="1012" y="912" font-size="16.6" fill="#4a5aa2" textLength="65" lengthAdjust="spacingAndGlyphs" >1.071,59</text>
<text x="10" y="1031.8" font-size="17" fill="#e8914a" textLength="66" lengthAdjust="spacingAndGlyphs" >3.206,85</text>
<text x="100.8" y="1049.5" font-size="17" fill="#e8914a" textLength="54.8" lengthAdjust="spacingAndGlyphs" >3.179,4</text>
<text x="179.7" y="1054" font-size="17" fill="#e8914a" textLength="66.1" lengthAdjust="spacingAndGlyphs" >2.971,55</text>
<text x="271.6" y="1068" font-size="17" fill="#e8914a" textLength="55.4" lengthAdjust="spacingAndGlyphs" >2.729,4</text>
<text x="343.8" y="1058.4" font-size="17" fill="#e8914a" textLength="65.6" lengthAdjust="spacingAndGlyphs" >3.072,37</text>
<text x="427" y="1066.5" font-size="17" fill="#e8914a" textLength="64.5" lengthAdjust="spacingAndGlyphs" >2.939,31</text>
<text x="503" y="1071.8" font-size="17" fill="#e8914a" textLength="66.3" lengthAdjust="spacingAndGlyphs" >2.637,86</text>
<text x="575.3" y="1047.7" font-size="17" fill="#e8914a" textLength="66.5" lengthAdjust="spacingAndGlyphs" >3.372,89</text>
<text x="654" y="1083" font-size="17" fill="#e8914a" textLength="65.6" lengthAdjust="spacingAndGlyphs" >2.540,35</text>
<text x="749.4" y="1065.4" font-size="17" fill="#e8914a" textLength="66.5" lengthAdjust="spacingAndGlyphs" >3.149,70</text>
<text x="838" y="1078.5" font-size="17" fill="#e8914a" textLength="66.3" lengthAdjust="spacingAndGlyphs" >2.504,50</text>
<text x="927.3" y="1076.7" font-size="17" fill="#e8914a" textLength="67.2" lengthAdjust="spacingAndGlyphs" >2.889,50</text>
<text x="1017.5" y="1070.7" font-size="17" fill="#e8914a" textLength="66.5" lengthAdjust="spacingAndGlyphs" >2.958,17</text>
<text x="29" y="1180.3" font-size="21" fill="#2b2b30" textLength="65" lengthAdjust="spacingAndGlyphs" >Ags’22</text>
<text x="124.5" y="1180.3" font-size="21" fill="#2b2b30" textLength="36.8" lengthAdjust="spacingAndGlyphs" >Sep</text>
<text x="200.6" y="1180.3" font-size="21" fill="#2b2b30" textLength="31.2" lengthAdjust="spacingAndGlyphs" >Okt</text>
<text x="279.7" y="1180.3" font-size="21" fill="#2b2b30" textLength="36.8" lengthAdjust="spacingAndGlyphs" >Nov</text>
<text x="365.4" y="1180.3" font-size="21" fill="#2b2b30" textLength="36.8" lengthAdjust="spacingAndGlyphs" >Des</text>
<text x="442.5" y="1180.3" font-size="21" fill="#2b2b30" textLength="60" lengthAdjust="spacingAndGlyphs" >Jan’23</text>
<text x="532.7" y="1180.3" font-size="21" fill="#2b2b30" textLength="34.3" lengthAdjust="spacingAndGlyphs" >Feb</text>
<text x="620.5" y="1180" font-size="21" fill="#2b2b30" textLength="34.7" lengthAdjust="spacingAndGlyphs" >Mar</text>
<text x="697" y="1183" font-size="21" fill="#2b2b30" textLength="31.8" lengthAdjust="spacingAndGlyphs" >Apr</text>
<text x="775" y="1181" font-size="21" fill="#2b2b30" textLength="33" lengthAdjust="spacingAndGlyphs" >Mei</text>
<text x="849.3" y="1182" font-size="21" fill="#2b2b30" textLength="37.7" lengthAdjust="spacingAndGlyphs" >Juni</text>
<text x="939" y="1182" font-size="21" fill="#2b2b30" textLength="29.2" lengthAdjust="spacingAndGlyphs" >Juli</text>
<text x="1024.7" y="1183" font-size="21" fill="#2b2b30" textLength="64" lengthAdjust="spacingAndGlyphs" >Ags’23</text>
<rect x="50.4" y="1212.7" width="190.6" height="35.3" fill="#8b4a9c" rx="17.6"/>
<text x="66.5" y="1228.8" font-size="12.8" fill="#fff" font-weight="bold" textLength="131" lengthAdjust="spacingAndGlyphs" >EKSPOR NONMIGAS</text>
<text x="67.5" y="1242.4" font-size="9.6" fill="#fff" textLength="77.2" lengthAdjust="spacingAndGlyphs" >AGUSTUS 2023</text>
<rect x="616.4" y="1211.7" width="191.6" height="36.3" fill="#f0883a" rx="18.1"/>
<text x="637.6" y="1230.3" font-size="12.8" fill="#fff" font-weight="bold" textLength="119" lengthAdjust="spacingAndGlyphs" >IMPOR NONMIGAS</text>
<text x="637.6" y="1242.4" font-size="9.6" fill="#fff" textLength="77.2" lengthAdjust="spacingAndGlyphs" >AGUSTUS 2023</text>
<rect x="343.9" y="1275.3" width="70" height="48.4" fill="#da3a40" />
<polygon points="354.75,1280.87 356.29,1285.29 360.96,1285.38 357.24,1288.21 358.59,1292.69 354.75,1290.01 350.91,1292.69 352.26,1288.21 348.54,1285.38 353.21,1285.29" fill="#f7d417"/>
<polygon points="367.90,1280.75 365.61,1280.72 364.79,1282.85 364.11,1280.66 361.83,1280.54 363.70,1279.22 363.11,1277.01 364.94,1278.38 366.87,1277.14 366.13,1279.30" fill="#f7d417"/>
<polygon points="372.41,1286.75 370.35,1285.76 368.70,1287.34 369.01,1285.08 366.99,1284.00 369.25,1283.59 369.65,1281.34 370.73,1283.36 373.00,1283.05 371.41,1284.70" fill="#f7d417"/>
<polygon points="373.34,1292.00 371.18,1292.75 371.14,1295.04 369.76,1293.21 367.57,1293.88 368.87,1292.00 367.57,1290.12 369.76,1290.78 371.14,1288.96 371.18,1291.25" fill="#f7d417"/>
<polygon points="367.90,1297.93 365.61,1297.90 364.79,1300.03 364.11,1297.84 361.83,1297.72 363.70,1296.40 363.11,1294.19 364.94,1295.56 366.87,1294.32 366.13,1296.49" fill="#f7d417"/>
<rect x="343.4" y="1340.6" width="70.5" height="52.7" fill="#fff" />
<rect x="343.4" y="1340.6" width="70.5" height="4.05" fill="#d8363e" />
<rect x="343.4" y="1348.71" width="70.5" height="4.05" fill="#d8363e" />
<rect x="343.4" y="1356.82" width="70.5" height="4.05" fill="#d8363e" />
<rect x="343.4" y="1364.92" width="70.5" height="4.05" fill="#d8363e" />
<rect x="343.4" y="1373.03" width="70.5" height="4.05" fill="#d8363e" />
<rect x="343.4" y="1381.14" width="70.5" height="4.05" fill="#d8363e" />
<rect x="343.4" y="1389.25" width="70.5" height="4.05" fill="#d8363e" />
<rect x="343.4" y="1340.6" width="32.43" height="28.38" fill="#3b4a7e" />
<circle cx="346.09" cy="1343.44" r="1.25" fill="#fff"/>
<circle cx="351.50" cy="1343.44" r="1.25" fill="#fff"/>
<circle cx="356.90" cy="1343.44" r="1.25" fill="#fff"/>
<circle cx="362.31" cy="1343.44" r="1.25" fill="#fff"/>
<circle cx="367.71" cy="1343.44" r="1.25" fill="#fff"/>
<circle cx="373.12" cy="1343.44" r="1.25" fill="#fff"/>
<circle cx="348.79" cy="1346.28" r="1.25" fill="#fff"/>
<circle cx="354.20" cy="1346.28" r="1.25" fill="#fff"/>
<circle cx="359.60" cy="1346.28" r="1.25" fill="#fff"/>
<circle cx="365.01" cy="1346.28" r="1.25" fill="#fff"/>
<circle cx="370.41" cy="1346.28" r="1.25" fill="#fff"/>
<circle cx="346.09" cy="1349.11" r="1.25" fill="#fff"/>
<circle cx="351.50" cy="1349.11" r="1.25" fill="#fff"/>
<circle cx="356.90" cy="1349.11" r="1.25" fill="#fff"/>
<circle cx="362.31" cy="1349.11" r="1.25" fill="#fff"/>
<circle cx="367.71" cy="1349.11" r="1.25" fill="#fff"/>
<circle cx="373.12" cy="1349.11" r="1.25" fill="#fff"/>
<circle cx="348.79" cy="1351.95" r="1.25" fill="#fff"/>
<circle cx="354.20" cy="1351.95" r="1.25" fill="#fff"/>
<circle cx="359.60" cy="1351.95" r="1.25" fill="#fff"/>
<circle cx="365.01" cy="1351.95" r="1.25" fill="#fff"/>
<circle cx="370.41" cy="1351.95" r="1.25" fill="#fff"/>
<circle cx="346.09" cy="1354.79" r="1.25" fill="#fff"/>
<circle cx="351.50" cy="1354.79" r="1.25" fill="#fff"/>
<circle cx="356.90" cy="1354.79" r="1.25" fill="#fff"/>
<circle cx="362.31" cy="1354.79" r="1.25" fill="#fff"/>
<circle cx="367.71" cy="1354.79" r="1.25" fill="#fff"/>
<circle cx="373.12" cy="1354.79" r="1.25" fill="#fff"/>
<circle cx="348.79" cy="1357.63" r="1.25" fill="#fff"/>
<circle cx="354.20" cy="1357.63" r="1.25" fill="#fff"/>
<circle cx="359.60" cy="1357.63" r="1.25" fill="#fff"/>
<circle cx="365.01" cy="1357.63" r="1.25" fill="#fff"/>
<circle cx="370.41" cy="1357.63" r="1.25" fill="#fff"/>
<circle cx="346.09" cy="1360.46" r="1.25" fill="#fff"/>
<circle cx="351.50" cy="1360.46" r="1.25" fill="#fff"/>
<circle cx="356.90" cy="1360.46" r="1.25" fill="#fff"/>
<circle cx="362.31" cy="1360.46" r="1.25" fill="#fff"/>
<circle cx="367.71" cy="1360.46" r="1.25" fill="#fff"/>
<circle cx="373.12" cy="1360.46" r="1.25" fill="#fff"/>
<circle cx="348.79" cy="1363.30" r="1.25" fill="#fff"/>
<circle cx="354.20" cy="1363.30" r="1.25" fill="#fff"/>
<circle cx="359.60" cy="1363.30" r="1.25" fill="#fff"/>
<circle cx="365.01" cy="1363.30" r="1.25" fill="#fff"/>
<circle cx="370.41" cy="1363.30" r="1.25" fill="#fff"/>
<circle cx="346.09" cy="1366.14" r="1.25" fill="#fff"/>
<circle cx="351.50" cy="1366.14" r="1.25" fill="#fff"/>
<circle cx="356.90" cy="1366.14" r="1.25" fill="#fff"/>
<circle cx="362.31" cy="1366.14" r="1.25" fill="#fff"/>
<circle cx="367.71" cy="1366.14" r="1.25" fill="#fff"/>
<circle cx="373.12" cy="1366.14" r="1.25" fill="#fff"/>
<rect x="343.4" y="1406" width="70" height="51" fill="#fff" />
<rect x="343.4" y="1406" width="70" height="17.85" fill="#f37536" />
<rect x="343.4" y="1440.42" width="70" height="16.57" fill="#2a8050" />
<circle cx="378.75" cy="1431.91" r="6.7" fill="#dfe0f0" stroke="#3a3f8a" stroke-width="1.4"/>
<path d="M378.75,1431.91 L385.25,1431.91 M378.75,1431.91 L385.03,1433.59 M378.75,1431.91 L384.38,1435.16 M378.75,1431.91 L383.35,1436.50 M378.75,1431.91 L382.00,1437.54 M378.75,1431.91 L380.43,1438.19 M378.75,1431.91 L378.75,1438.41 M378.75,1431.91 L377.07,1438.19 M378.75,1431.91 L375.50,1437.54 M378.75,1431.91 L374.15,1436.50 M378.75,1431.91 L373.12,1435.16 M378.75,1431.91 L372.47,1433.59 M378.75,1431.91 L372.25,1431.91 M378.75,1431.91 L372.47,1430.23 M378.75,1431.91 L373.12,1428.66 M378.75,1431.91 L374.15,1427.31 M378.75,1431.91 L375.50,1426.28 M378.75,1431.91 L377.07,1425.63 M378.75,1431.91 L378.75,1425.41 M378.75,1431.91 L380.43,1425.63 M378.75,1431.91 L382.00,1426.28 M378.75,1431.91 L383.35,1427.31 M378.75,1431.91 L384.38,1428.66 M378.75,1431.91 L385.03,1430.23" stroke="#3a3f8a" stroke-width="0.7" fill="none"/>
<circle cx="378.75" cy="1431.91" r="1.8" fill="#3a3f8a"/>
<text x="341.7" y="1289.7" font-size="14.8" fill="#2b2b30" text-anchor="end" textLength="78" lengthAdjust="spacingAndGlyphs" >TIONGKOK</text>
<text x="341.1" y="1323" font-size="20" fill="#2b2b30" text-anchor="end" textLength="61" lengthAdjust="spacingAndGlyphs" >164,92</text>
<text x="340.5" y="1357.2" font-size="14.2" fill="#2b2b30" text-anchor="end" textLength="122.5" lengthAdjust="spacingAndGlyphs" >AMERIKA SERIKAT</text>
<text x="340" y="1392.6" font-size="20" fill="#2b2b30" text-anchor="end" textLength="62" lengthAdjust="spacingAndGlyphs" >151,68</text>
<text x="318.4" y="1427.6" font-size="14.6" fill="#2b2b30" text-anchor="end" textLength="37.1" lengthAdjust="spacingAndGlyphs" >INDIA</text>
<text x="339" y="1455.6" font-size="20" fill="#2b2b30" text-anchor="end" textLength="52" lengthAdjust="spacingAndGlyphs" >84,79</text>
<rect x="755.3" y="1276" width="70.7" height="48.7" fill="#da3a40" />
<polygon points="766.26,1281.60 767.80,1286.05 772.51,1286.14 768.76,1288.99 770.12,1293.49 766.26,1290.80 762.39,1293.49 763.76,1288.99 760.01,1286.14 764.71,1286.05" fill="#f7d417"/>
<polygon points="779.53,1281.48 777.23,1281.45 776.40,1283.60 775.72,1281.40 773.42,1281.27 775.30,1279.94 774.71,1277.72 776.55,1279.10 778.49,1277.85 777.75,1280.03" fill="#f7d417"/>
<polygon points="784.09,1287.53 782.01,1286.52 780.35,1288.12 780.67,1285.84 778.64,1284.75 780.90,1284.34 781.31,1282.08 782.40,1284.11 784.68,1283.79 783.08,1285.45" fill="#f7d417"/>
<polygon points="785.03,1292.80 782.85,1293.56 782.81,1295.86 781.42,1294.02 779.21,1294.69 780.53,1292.80 779.21,1290.91 781.42,1291.58 782.81,1289.74 782.85,1292.05" fill="#f7d417"/>
<polygon points="779.53,1298.77 777.23,1298.74 776.40,1300.88 775.72,1298.68 773.42,1298.56 775.30,1297.23 774.71,1295.01 776.55,1296.39 778.49,1295.14 777.75,1297.32" fill="#f7d417"/>
<rect x="756.6" y="1341.7" width="66.6" height="44.6" fill="#fff" />
<rect x="756.6" y="1341.7" width="66.6" height="22.75" fill="#e8353b" />
<circle cx="767.59" cy="1352.85" r="6" fill="#fff"/>
<circle cx="770.29" cy="1352.85" r="5.3" fill="#e8353b"/>
<polygon points="774.19,1347.95 774.54,1348.96 775.62,1348.99 774.76,1349.64 775.07,1350.66 774.19,1350.05 773.31,1350.66 773.62,1349.64 772.76,1348.99 773.84,1348.96" fill="#fff"/>
<polygon points="777.71,1350.51 778.06,1351.52 779.13,1351.54 778.28,1352.19 778.59,1353.22 777.71,1352.61 776.83,1353.22 777.14,1352.19 776.28,1351.54 777.36,1351.52" fill="#fff"/>
<polygon points="776.36,1354.64 776.72,1355.66 777.79,1355.68 776.93,1356.33 777.25,1357.36 776.36,1356.74 775.48,1357.36 775.79,1356.33 774.94,1355.68 776.01,1355.66" fill="#fff"/>
<polygon points="772.01,1354.64 772.37,1355.66 773.44,1355.68 772.58,1356.33 772.90,1357.36 772.01,1356.74 771.13,1357.36 771.44,1356.33 770.59,1355.68 771.66,1355.66" fill="#fff"/>
<polygon points="770.67,1350.51 771.02,1351.52 772.10,1351.54 771.24,1352.19 771.55,1353.22 770.67,1352.61 769.79,1353.22 770.10,1352.19 769.24,1351.54 770.32,1351.52" fill="#fff"/>
<rect x="755.3" y="1409.2" width="67.9" height="48.1" fill="#3b4687" />
<g><clipPath id="uj"><rect x="755.3" y="1409.2" width="34.97" height="25.25"/></clipPath><g clip-path="url(#uj)">
<path d="M755.3,1409.2 L790.27,1434.45 M790.27,1409.2 L755.3,1434.45" stroke="#fff" stroke-width="4.6"/>
<path d="M755.3,1409.2 L790.27,1434.45 M790.27,1409.2 L755.3,1434.45" stroke="#e8353b" stroke-width="1.6"/>
<path d="M772.78,1409.2 V1434.45 M755.3,1421.83 H790.27" stroke="#fff" stroke-width="7.4"/>
<path d="M772.78,1409.2 V1434.45 M755.3,1421.83 H790.27" stroke="#e8353b" stroke-width="4.4"/>
</g></g>
<polygon points="771.94,1440.73 772.78,1443.29 775.30,1442.35 773.82,1444.60 776.13,1445.99 773.45,1446.24 773.80,1448.91 771.94,1446.97 770.07,1448.91 770.42,1446.24 767.74,1445.99 770.05,1444.60 768.57,1442.35 771.10,1443.29" fill="#fff"/>
<polygon points="806.22,1414.70 806.65,1416.00 807.95,1415.52 807.19,1416.68 808.37,1417.39 807.00,1417.51 807.18,1418.88 806.22,1417.89 805.27,1418.88 805.45,1417.51 804.08,1417.39 805.26,1416.68 804.50,1415.52 805.80,1416.00" fill="#fff"/>
<polygon points="797.74,1427.68 798.17,1428.99 799.46,1428.51 798.70,1429.66 799.88,1430.37 798.51,1430.50 798.69,1431.87 797.74,1430.87 796.78,1431.87 796.96,1430.50 795.59,1430.37 796.77,1429.66 796.02,1428.51 797.31,1428.99" fill="#fff"/>
<polygon points="813.69,1424.32 814.12,1425.62 815.41,1425.14 814.66,1426.30 815.84,1427.01 814.47,1427.13 814.65,1428.50 813.69,1427.51 812.74,1428.50 812.92,1427.13 811.55,1427.01 812.73,1426.30 811.97,1425.14 813.26,1425.62" fill="#fff"/>
<polygon points="806.22,1446.44 806.65,1447.75 807.95,1447.27 807.19,1448.42 808.37,1449.13 807.00,1449.26 807.18,1450.62 806.22,1449.63 805.27,1450.62 805.45,1449.26 804.08,1449.13 805.26,1448.42 804.50,1447.27 805.80,1447.75" fill="#fff"/>
<polygon points="809.62,1434.45 809.94,1435.22 810.76,1435.28 810.13,1435.82 810.33,1436.63 809.62,1436.19 808.91,1436.63 809.11,1435.82 808.48,1435.28 809.30,1435.22" fill="#fff"/>
<text x="834.4" y="1289.3" font-size="14.6" fill="#2b2b30" textLength="76.4" lengthAdjust="spacingAndGlyphs" >TIONGKOK</text>
<text x="839.3" y="1322.8" font-size="20" fill="#2b2b30" textLength="62" lengthAdjust="spacingAndGlyphs" >387,26</text>
<text x="835" y="1358" font-size="14.9" fill="#2b2b30" textLength="83.2" lengthAdjust="spacingAndGlyphs" >AUSTRALIA</text>
<text x="839.7" y="1388.6" font-size="20" fill="#2b2b30" textLength="63.3" lengthAdjust="spacingAndGlyphs" >248,34</text>
<text x="831.2" y="1427.6" font-size="14.9" fill="#2b2b30" textLength="83.2" lengthAdjust="spacingAndGlyphs" >AUSTRALIA</text>
<text x="839.7" y="1456.3" font-size="20" fill="#2b2b30" textLength="63.3" lengthAdjust="spacingAndGlyphs" >248,34</text>
<rect x="0" y="1496.6" width="1131" height="103.4" fill="#3aace2" />
<circle cx="54.9" cy="1541.4" r="17" fill="#cfdcec"/>
<rect x="43.2" y="1529.6" width="23.4" height="23.6" rx="6" fill="#3879a6"/>
<g transform="translate(54.9,1541.4)" fill="none" stroke="#fff" stroke-width="2"><circle r="6"/><path d="M-6,0.8 H6 M-0.500,-6 Q3.500,0 1,6 M-4.500,-4 Q0,-1.200 5,-3.500 M-4,4.500 Q0,0.500 5.500,3" stroke-width="1.600"/></g>
<text x="81.4" y="1545.3" font-size="10.9" fill="#fff" textLength="80.6" lengthAdjust="spacingAndGlyphs" >banten.bps.go.id</text>
<circle cx="184.2" cy="1541" r="16.6" fill="#cfdcec"/>
<rect x="172.5" y="1529.2" width="23.4" height="23.6" rx="6" fill="#3879a6"/>
<g transform="translate(184.2,1541.3) scale(0.66) translate(-12,-12)"><path fill="#fff" d="M23.6 4.6c-.9.4-1.8.6-2.8.8 1-.6 1.8-1.6 2.1-2.7-.9.6-2 1-3.1 1.2A4.8 4.8 0 0 0 11.500 8.300c-4-.2-7.600-2.100-10-5.100a4.800 4.800 0 0 0 1.500 6.500c-.8 0-1.500-.2-2.200-.6v.1c0 2.300 1.700 4.300 3.900 4.800-.7.200-1.500.2-2.200.1.600 1.900 2.400 3.300 4.500 3.400A9.700 9.700 0 0 1 0 19.500a13.700 13.700 0 0 0 7.400 2.200c8.900 0 13.800-7.400 13.800-13.800v-.6c.9-.7 1.700-1.600 2.400-2.700z"/></g>
<circle cx="222.5" cy="1542.7" r="16.4" fill="#cfdcec"/>
<rect x="210.8" y="1530.9" width="23.4" height="23.6" rx="6" fill="#3879a6"/>
<g transform="translate(222.5,1542.7)" fill="none" stroke="#fff"><rect x="-6.6" y="-6.6" width="13.2" height="13.2" rx="3" stroke-width="2"/><circle r="3" stroke-width="1.9"/><circle cx="4" cy="-4" r="0.9" fill="#fff" stroke="none"/></g>
<text x="245.4" y="1544.8" font-size="10.9" fill="#fff" textLength="67.6" lengthAdjust="spacingAndGlyphs" >@bps_banten</text>
<circle cx="335.2" cy="1543.4" r="16.6" fill="#cfdcec"/>
<rect x="323.5" y="1531.6" width="23.4" height="23.6" rx="6" fill="#3879a6"/>
<path transform="translate(335.2,1543.4)" fill="#fff" d="M-1.6,11.5 V1.2 H-4.8 V-2.6 H-1.6 V-5.2 C-1.6,-8.8 0.6,-10.4 3.6,-10.4 C4.9,-10.4 5.9,-10.3 6.3,-10.2 V-6.8 H4.4 C2.9,-6.8 2.6,-6.1 2.6,-5 V-2.6 H6.1 L5.6,1.2 H2.6 V11.5 Z"/>
<circle cx="367.9" cy="1542.2" r="16.2" fill="#cfdcec"/>
<rect x="356.2" y="1530.4" width="23.4" height="23.6" rx="6" fill="#3879a6"/>
<g transform="translate(367.9,1542.2)"><rect x="-7.2" y="-5" width="14.4" height="10" rx="3" fill="#fff"/><path d="M-1.4,-2 L2.2,0 L-1.4,2 Z" fill="#3879a6"/></g>
<text x="389.7" y="1545.8" font-size="10.9" fill="#fff" textLength="101.5" lengthAdjust="spacingAndGlyphs" >BPS Provinsi Banten</text>
<g id="bpslogo">
<path d="M 828.9 1536.8 C 816.9 1544.8 813.0 1557.5 822.5 1566.3 C 832.9 1573.4 860.7 1568.7 875.0 1555.9 C 860.7 1564.7 836.8 1567.9 828.1 1561.9 C 820.1 1555.9 821.7 1544.8 831.7 1537.6 Z" fill="#3b92d9"/>
<polygon points="828.1,1522.3 838.4,1522.3 836.4,1535.2 825.3,1535.2" fill="#3b92d9"/>
<polygon points="836.8,1538.4 848.4,1538.4 845.2,1555.9 833.2,1555.9" fill="#3b92d9"/>
<path d="M 831.7 1532.9 C 844.8 1523.7 868.7 1520.9 879.0 1527.7 C 888.2 1534.4 885.0 1548.4 872.6 1555.3 C 880.6 1547.2 882.6 1537.2 876.2 1530.9 C 868.7 1524.5 846.4 1526.9 832.5 1533.8 Z" fill="#f59b2e"/>
<polygon points="853.1,1522.1 867.7,1522.1 866.4,1528.9 862.9,1528.9 861.3,1540.0 850.2,1540.0" fill="#f59b2e"/>
<polygon points="863.5,1536.8 873.6,1537.2 870.6,1555.3 859.9,1555.3 861.7,1540.0" fill="#f59b2e"/>
<polygon points="849.2,1541.4 860.7,1541.4 857.5,1559.1 846.0,1559.1" fill="#9ac64c"/>
<polygon points="832.5,1558.7 846.4,1558.7 843.2,1562.3 840.2,1575.4 829.3,1575.4" fill="#9ac64c"/>
</g>
<text x="898" y="1538.5" font-size="15.1" fill="#f4fbff" font-weight="bold" textLength="189" lengthAdjust="spacingAndGlyphs" font-style="italic" >BADAN PUSAT STATISTIK</text>
<text x="898" y="1557" font-size="15.1" fill="#f4fbff" font-weight="bold" textLength="139.4" lengthAdjust="spacingAndGlyphs" font-style="italic" >PROVINSI BANTEN</text>
<text x="897.6" y="1574.3" font-size="15.1" fill="#f4fbff" font-weight="bold" textLength="170.8" lengthAdjust="spacingAndGlyphs" font-style="italic" >https://banten.bps.go.id</text>
<path d="M986.10,50.10h3.47v3.47h-3.47zM989.42,50.10h3.47v3.47h-3.47zM992.74,50.10h3.47v3.47h-3.47zM996.06,50.10h3.47v3.47h-3.47zM999.38,50.10h3.47v3.47h-3.47zM1002.70,50.10h3.47v3.47h-3.47zM1006.02,50.10h3.47v3.47h-3.47zM1015.99,50.10h3.47v3.47h-3.47zM1019.31,50.10h3.47v3.47h-3.47zM1025.95,50.10h3.47v3.47h-3.47zM1029.27,50.10h3.47v3.47h-3.47zM1035.91,50.10h3.47v3.47h-3.47zM1042.55,50.10h3.47v3.47h-3.47zM1045.87,50.10h3.47v3.47h-3.47zM1049.19,50.10h3.47v3.47h-3.47zM1052.51,50.10h3.47v3.47h-3.47zM1059.16,50.10h3.47v3.47h-3.47zM1062.48,50.10h3.47v3.47h-3.47zM1065.80,50.10h3.47v3.47h-3.47zM1069.12,50.10h3.47v3.47h-3.47zM1072.44,50.10h3.47v3.47h-3.47zM1075.76,50.10h3.47v3.47h-3.47zM1079.08,50.10h3.47v3.47h-3.47zM986.10,53.42h3.47v3.47h-3.47zM1006.02,53.42h3.47v3.47h-3.47zM1019.31,53.42h3.47v3.47h-3.47zM1025.95,53.42h3.47v3.47h-3.47zM1029.27,53.42h3.47v3.47h-3.47zM1032.59,53.42h3.47v3.47h-3.47zM1035.91,53.42h3.47v3.47h-3.47zM1045.87,53.42h3.47v3.47h-3.47zM1059.16,53.42h3.47v3.47h-3.47zM1079.08,53.42h3.47v3.47h-3.47zM986.10,56.74h3.47v3.47h-3.47zM992.74,56.74h3.47v3.47h-3.47zM996.06,56.74h3.47v3.47h-3.47zM999.38,56.74h3.47v3.47h-3.47zM1006.02,56.74h3.47v3.47h-3.47zM1012.67,56.74h3.47v3.47h-3.47zM1019.31,56.74h3.47v3.47h-3.47zM1025.95,56.74h3.47v3.47h-3.47zM1029.27,56.74h3.47v3.47h-3.47zM1035.91,56.74h3.47v3.47h-3.47zM1039.23,56.74h3.47v3.47h-3.47zM1049.19,56.74h3.47v3.47h-3.47zM1052.51,56.74h3.47v3.47h-3.47zM1059.16,56.74h3.47v3.47h-3.47zM1065.80,56.74h3.47v3.47h-3.47zM1069.12,56.74h3.47v3.47h-3.47zM1072.44,56.74h3.47v3.47h-3.47zM1079.08,56.74h3.47v3.47h-3.47zM986.10,60.06h3.47v3.47h-3.47zM992.74,60.06h3.47v3.47h-3.47zM996.06,60.06h3.47v3.47h-3.47zM999.38,60.06h3.47v3.47h-3.47zM1006.02,60.06h3.47v3.47h-3.47zM1012.67,60.06h3.47v3.47h-3.47zM1022.63,60.06h3.47v3.47h-3.47zM1025.95,60.06h3.47v3.47h-3.47zM1032.59,60.06h3.47v3.47h-3.47zM1042.55,60.06h3.47v3.47h-3.47zM1049.19,60.06h3.47v3.47h-3.47zM1059.16,60.06h3.47v3.47h-3.47zM1065.80,60.06h3.47v3.47h-3.47zM1069.12,60.06h3.47v3.47h-3.47zM1072.44,60.06h3.47v3.47h-3.47zM1079.08,60.06h3.47v3.47h-3.47zM986.10,63.38h3.47v3.47h-3.47zM992.74,63.38h3.47v3.47h-3.47zM996.06,63.38h3.47v3.47h-3.47zM999.38,63.38h3.47v3.47h-3.47zM1006.02,63.38h3.47v3.47h-3.47zM1012.67,63.38h3.47v3.47h-3.47zM1022.63,63.38h3.47v3.47h-3.47zM1025.95,63.38h3.47v3.47h-3.47zM1039.23,63.38h3.47v3.47h-3.47zM1045.87,63.38h3.47v3.47h-3.47zM1049.19,63.38h3.47v3.47h-3.47zM1059.16,63.38h3.47v3.47h-3.47zM1065.80,63.38h3.47v3.47h-3.47zM1069.12,63.38h3.47v3.47h-3.47zM1072.44,63.38h3.47v3.47h-3.47zM1079.08,63.38h3.47v3.47h-3.47zM986.10,66.70h3.47v3.47h-3.47zM1006.02,66.70h3.47v3.47h-3.47zM1012.67,66.70h3.47v3.47h-3.47zM1015.99,66.70h3.47v3.47h-3.47zM1019.31,66.70h3.47v3.47h-3.47zM1022.63,66.70h3.47v3.47h-3.47zM1025.95,66.70h3.47v3.47h-3.47zM1035.91,66.70h3.47v3.47h-3.47zM1039.23,66.70h3.47v3.47h-3.47zM1052.51,66.70h3.47v3.47h-3.47zM1059.16,66.70h3.47v3.47h-3.47zM1079.08,66.70h3.47v3.47h-3.47zM986.10,70.02h3.47v3.47h-3.47zM989.42,70.02h3.47v3.47h-3.47zM992.74,70.02h3.47v3.47h-3.47zM996.06,70.02h3.47v3.47h-3.47zM999.38,70.02h3.47v3.47h-3.47zM1002.70,70.02h3.47v3.47h-3.47zM1006.02,70.02h3.47v3.47h-3.47zM1012.67,70.02h3.47v3.47h-3.47zM1019.31,70.02h3.47v3.47h-3.47zM1025.95,70.02h3.47v3.47h-3.47zM1032.59,70.02h3.47v3.47h-3.47zM1039.23,70.02h3.47v3.47h-3.47zM1045.87,70.02h3.47v3.47h-3.47zM1052.51,70.02h3.47v3.47h-3.47zM1059.16,70.02h3.47v3.47h-3.47zM1062.48,70.02h3.47v3.47h-3.47zM1065.80,70.02h3.47v3.47h-3.47zM1069.12,70.02h3.47v3.47h-3.47zM1072.44,70.02h3.47v3.47h-3.47zM1075.76,70.02h3.47v3.47h-3.47zM1079.08,70.02h3.47v3.47h-3.47zM1012.67,73.34h3.47v3.47h-3.47zM1015.99,73.34h3.47v3.47h-3.47zM1022.63,73.34h3.47v3.47h-3.47zM1032.59,73.34h3.47v3.47h-3.47zM1035.91,73.34h3.47v3.47h-3.47zM1039.23,73.34h3.47v3.47h-3.47zM1045.87,73.34h3.47v3.47h-3.47zM1049.19,73.34h3.47v3.47h-3.47zM1052.51,73.34h3.47v3.47h-3.47zM986.10,76.67h3.47v3.47h-3.47zM992.74,76.67h3.47v3.47h-3.47zM996.06,76.67h3.47v3.47h-3.47zM999.38,76.67h3.47v3.47h-3.47zM1002.70,76.67h3.47v3.47h-3.47zM1006.02,76.67h3.47v3.47h-3.47zM1015.99,76.67h3.47v3.47h-3.47zM1025.95,76.67h3.47v3.47h-3.47zM1042.55,76.67h3.47v3.47h-3.47zM1045.87,76.67h3.47v3.47h-3.47zM1049.19,76.67h3.47v3.47h-3.47zM1059.16,76.67h3.47v3.47h-3.47zM1062.48,76.67h3.47v3.47h-3.47zM1065.80,76.67h3.47v3.47h-3.47zM1069.12,76.67h3.47v3.47h-3.47zM1072.44,76.67h3.47v3.47h-3.47zM989.42,79.99h3.47v3.47h-3.47zM992.74,79.99h3.47v3.47h-3.47zM996.06,79.99h3.47v3.47h-3.47zM1002.70,79.99h3.47v3.47h-3.47zM1009.34,79.99h3.47v3.47h-3.47zM1025.95,79.99h3.47v3.47h-3.47zM1029.27,79.99h3.47v3.47h-3.47zM1032.59,79.99h3.47v3.47h-3.47zM1039.23,79.99h3.47v3.47h-3.47zM1042.55,79.99h3.47v3.47h-3.47zM1045.87,79.99h3.47v3.47h-3.47zM1049.19,79.99h3.47v3.47h-3.47zM1052.51,79.99h3.47v3.47h-3.47zM1055.83,79.99h3.47v3.47h-3.47zM1059.16,79.99h3.47v3.47h-3.47zM1062.48,79.99h3.47v3.47h-3.47zM1065.80,79.99h3.47v3.47h-3.47zM1079.08,79.99h3.47v3.47h-3.47zM986.10,83.31h3.47v3.47h-3.47zM989.42,83.31h3.47v3.47h-3.47zM996.06,83.31h3.47v3.47h-3.47zM1006.02,83.31h3.47v3.47h-3.47zM1019.31,83.31h3.47v3.47h-3.47zM1025.95,83.31h3.47v3.47h-3.47zM1029.27,83.31h3.47v3.47h-3.47zM1032.59,83.31h3.47v3.47h-3.47zM1035.91,83.31h3.47v3.47h-3.47zM1042.55,83.31h3.47v3.47h-3.47zM1052.51,83.31h3.47v3.47h-3.47zM1065.80,83.31h3.47v3.47h-3.47zM992.74,86.63h3.47v3.47h-3.47zM999.38,86.63h3.47v3.47h-3.47zM1002.70,86.63h3.47v3.47h-3.47zM1015.99,86.63h3.47v3.47h-3.47zM1025.95,86.63h3.47v3.47h-3.47zM1035.91,86.63h3.47v3.47h-3.47zM1039.23,86.63h3.47v3.47h-3.47zM1049.19,86.63h3.47v3.47h-3.47zM1052.51,86.63h3.47v3.47h-3.47zM1062.48,86.63h3.47v3.47h-3.47zM1065.80,86.63h3.47v3.47h-3.47zM1069.12,86.63h3.47v3.47h-3.47zM1075.76,86.63h3.47v3.47h-3.47zM992.74,89.95h3.47v3.47h-3.47zM999.38,89.95h3.47v3.47h-3.47zM1002.70,89.95h3.47v3.47h-3.47zM1006.02,89.95h3.47v3.47h-3.47zM1009.34,89.95h3.47v3.47h-3.47zM1025.95,89.95h3.47v3.47h-3.47zM1032.59,89.95h3.47v3.47h-3.47zM1035.91,89.95h3.47v3.47h-3.47zM1039.23,89.95h3.47v3.47h-3.47zM1042.55,89.95h3.47v3.47h-3.47zM1062.48,89.95h3.47v3.47h-3.47zM1069.12,89.95h3.47v3.47h-3.47zM1072.44,89.95h3.47v3.47h-3.47zM996.06,93.27h3.47v3.47h-3.47zM1002.70,93.27h3.47v3.47h-3.47zM1019.31,93.27h3.47v3.47h-3.47zM1039.23,93.27h3.47v3.47h-3.47zM1045.87,93.27h3.47v3.47h-3.47zM1049.19,93.27h3.47v3.47h-3.47zM1052.51,93.27h3.47v3.47h-3.47zM1055.83,93.27h3.47v3.47h-3.47zM1059.16,93.27h3.47v3.47h-3.47zM1062.48,93.27h3.47v3.47h-3.47zM1065.80,93.27h3.47v3.47h-3.47zM1079.08,93.27h3.47v3.47h-3.47zM986.10,96.59h3.47v3.47h-3.47zM999.38,96.59h3.47v3.47h-3.47zM1006.02,96.59h3.47v3.47h-3.47zM1009.34,96.59h3.47v3.47h-3.47zM1015.99,96.59h3.47v3.47h-3.47zM1019.31,96.59h3.47v3.47h-3.47zM1022.63,96.59h3.47v3.47h-3.47zM1025.95,96.59h3.47v3.47h-3.47zM1032.59,96.59h3.47v3.47h-3.47zM1035.91,96.59h3.47v3.47h-3.47zM1042.55,96.59h3.47v3.47h-3.47zM1059.16,96.59h3.47v3.47h-3.47zM1069.12,96.59h3.47v3.47h-3.47zM1072.44,96.59h3.47v3.47h-3.47zM986.10,99.91h3.47v3.47h-3.47zM989.42,99.91h3.47v3.47h-3.47zM999.38,99.91h3.47v3.47h-3.47zM1002.70,99.91h3.47v3.47h-3.47zM1009.34,99.91h3.47v3.47h-3.47zM1015.99,99.91h3.47v3.47h-3.47zM1022.63,99.91h3.47v3.47h-3.47zM1025.95,99.91h3.47v3.47h-3.47zM1032.59,99.91h3.47v3.47h-3.47zM1035.91,99.91h3.47v3.47h-3.47zM1049.19,99.91h3.47v3.47h-3.47zM1052.51,99.91h3.47v3.47h-3.47zM1055.83,99.91h3.47v3.47h-3.47zM1059.16,99.91h3.47v3.47h-3.47zM1062.48,99.91h3.47v3.47h-3.47zM1075.76,99.91h3.47v3.47h-3.47zM986.10,103.23h3.47v3.47h-3.47zM989.42,103.23h3.47v3.47h-3.47zM992.74,103.23h3.47v3.47h-3.47zM1002.70,103.23h3.47v3.47h-3.47zM1006.02,103.23h3.47v3.47h-3.47zM1012.67,103.23h3.47v3.47h-3.47zM1015.99,103.23h3.47v3.47h-3.47zM1022.63,103.23h3.47v3.47h-3.47zM1025.95,103.23h3.47v3.47h-3.47zM1042.55,103.23h3.47v3.47h-3.47zM1049.19,103.23h3.47v3.47h-3.47zM1055.83,103.23h3.47v3.47h-3.47zM1069.12,103.23h3.47v3.47h-3.47zM1072.44,103.23h3.47v3.47h-3.47zM986.10,106.55h3.47v3.47h-3.47zM992.74,106.55h3.47v3.47h-3.47zM996.06,106.55h3.47v3.47h-3.47zM999.38,106.55h3.47v3.47h-3.47zM1002.70,106.55h3.47v3.47h-3.47zM1009.34,106.55h3.47v3.47h-3.47zM1012.67,106.55h3.47v3.47h-3.47zM1019.31,106.55h3.47v3.47h-3.47zM1029.27,106.55h3.47v3.47h-3.47zM1032.59,106.55h3.47v3.47h-3.47zM1039.23,106.55h3.47v3.47h-3.47zM1045.87,106.55h3.47v3.47h-3.47zM1049.19,106.55h3.47v3.47h-3.47zM1055.83,106.55h3.47v3.47h-3.47zM1059.16,106.55h3.47v3.47h-3.47zM1062.48,106.55h3.47v3.47h-3.47zM1065.80,106.55h3.47v3.47h-3.47zM1072.44,106.55h3.47v3.47h-3.47zM1079.08,106.55h3.47v3.47h-3.47zM986.10,109.87h3.47v3.47h-3.47zM1002.70,109.87h3.47v3.47h-3.47zM1006.02,109.87h3.47v3.47h-3.47zM1015.99,109.87h3.47v3.47h-3.47zM1019.31,109.87h3.47v3.47h-3.47zM1025.95,109.87h3.47v3.47h-3.47zM1029.27,109.87h3.47v3.47h-3.47zM1032.59,109.87h3.47v3.47h-3.47zM1035.91,109.87h3.47v3.47h-3.47zM1045.87,109.87h3.47v3.47h-3.47zM1052.51,109.87h3.47v3.47h-3.47zM1059.16,109.87h3.47v3.47h-3.47zM1062.48,109.87h3.47v3.47h-3.47zM1065.80,109.87h3.47v3.47h-3.47zM1072.44,109.87h3.47v3.47h-3.47zM986.10,113.19h3.47v3.47h-3.47zM996.06,113.19h3.47v3.47h-3.47zM1002.70,113.19h3.47v3.47h-3.47zM1009.34,113.19h3.47v3.47h-3.47zM1012.67,113.19h3.47v3.47h-3.47zM1015.99,113.19h3.47v3.47h-3.47zM1022.63,113.19h3.47v3.47h-3.47zM1029.27,113.19h3.47v3.47h-3.47zM1039.23,113.19h3.47v3.47h-3.47zM1049.19,113.19h3.47v3.47h-3.47zM1055.83,113.19h3.47v3.47h-3.47zM1059.16,113.19h3.47v3.47h-3.47zM1065.80,113.19h3.47v3.47h-3.47zM1075.76,113.19h3.47v3.47h-3.47zM986.10,116.51h3.47v3.47h-3.47zM996.06,116.51h3.47v3.47h-3.47zM1006.02,116.51h3.47v3.47h-3.47zM1019.31,116.51h3.47v3.47h-3.47zM1032.59,116.51h3.47v3.47h-3.47zM1042.55,116.51h3.47v3.47h-3.47zM1052.51,116.51h3.47v3.47h-3.47zM1055.83,116.51h3.47v3.47h-3.47zM1059.16,116.51h3.47v3.47h-3.47zM1062.48,116.51h3.47v3.47h-3.47zM1065.80,116.51h3.47v3.47h-3.47zM1072.44,116.51h3.47v3.47h-3.47zM1075.76,116.51h3.47v3.47h-3.47zM1079.08,116.51h3.47v3.47h-3.47zM1012.67,119.83h3.47v3.47h-3.47zM1022.63,119.83h3.47v3.47h-3.47zM1025.95,119.83h3.47v3.47h-3.47zM1042.55,119.83h3.47v3.47h-3.47zM1045.87,119.83h3.47v3.47h-3.47zM1049.19,119.83h3.47v3.47h-3.47zM1052.51,119.83h3.47v3.47h-3.47zM1065.80,119.83h3.47v3.47h-3.47zM1069.12,119.83h3.47v3.47h-3.47zM1072.44,119.83h3.47v3.47h-3.47zM1075.76,119.83h3.47v3.47h-3.47zM1079.08,119.83h3.47v3.47h-3.47zM986.10,123.16h3.47v3.47h-3.47zM989.42,123.16h3.47v3.47h-3.47zM992.74,123.16h3.47v3.47h-3.47zM996.06,123.16h3.47v3.47h-3.47zM999.38,123.16h3.47v3.47h-3.47zM1002.70,123.16h3.47v3.47h-3.47zM1006.02,123.16h3.47v3.47h-3.47zM1015.99,123.16h3.47v3.47h-3.47zM1035.91,123.16h3.47v3.47h-3.47zM1039.23,123.16h3.47v3.47h-3.47zM1049.19,123.16h3.47v3.47h-3.47zM1052.51,123.16h3.47v3.47h-3.47zM1059.16,123.16h3.47v3.47h-3.47zM1065.80,123.16h3.47v3.47h-3.47zM1069.12,123.16h3.47v3.47h-3.47zM1072.44,123.16h3.47v3.47h-3.47zM986.10,126.48h3.47v3.47h-3.47zM1006.02,126.48h3.47v3.47h-3.47zM1012.67,126.48h3.47v3.47h-3.47zM1015.99,126.48h3.47v3.47h-3.47zM1019.31,126.48h3.47v3.47h-3.47zM1025.95,126.48h3.47v3.47h-3.47zM1032.59,126.48h3.47v3.47h-3.47zM1035.91,126.48h3.47v3.47h-3.47zM1045.87,126.48h3.47v3.47h-3.47zM1049.19,126.48h3.47v3.47h-3.47zM1052.51,126.48h3.47v3.47h-3.47zM1065.80,126.48h3.47v3.47h-3.47zM1075.76,126.48h3.47v3.47h-3.47zM986.10,129.80h3.47v3.47h-3.47zM992.74,129.80h3.47v3.47h-3.47zM996.06,129.80h3.47v3.47h-3.47zM999.38,129.80h3.47v3.47h-3.47zM1006.02,129.80h3.47v3.47h-3.47zM1012.67,129.80h3.47v3.47h-3.47zM1022.63,129.80h3.47v3.47h-3.47zM1039.23,129.80h3.47v3.47h-3.47zM1042.55,129.80h3.47v3.47h-3.47zM1052.51,129.80h3.47v3.47h-3.47zM1055.83,129.80h3.47v3.47h-3.47zM1059.16,129.80h3.47v3.47h-3.47zM1062.48,129.80h3.47v3.47h-3.47zM1065.80,129.80h3.47v3.47h-3.47zM1072.44,129.80h3.47v3.47h-3.47zM986.10,133.12h3.47v3.47h-3.47zM992.74,133.12h3.47v3.47h-3.47zM996.06,133.12h3.47v3.47h-3.47zM999.38,133.12h3.47v3.47h-3.47zM1006.02,133.12h3.47v3.47h-3.47zM1012.67,133.12h3.47v3.47h-3.47zM1022.63,133.12h3.47v3.47h-3.47zM1025.95,133.12h3.47v3.47h-3.47zM1032.59,133.12h3.47v3.47h-3.47zM1039.23,133.12h3.47v3.47h-3.47zM1045.87,133.12h3.47v3.47h-3.47zM1069.12,133.12h3.47v3.47h-3.47zM1072.44,133.12h3.47v3.47h-3.47zM1075.76,133.12h3.47v3.47h-3.47zM1079.08,133.12h3.47v3.47h-3.47zM986.10,136.44h3.47v3.47h-3.47zM992.74,136.44h3.47v3.47h-3.47zM996.06,136.44h3.47v3.47h-3.47zM999.38,136.44h3.47v3.47h-3.47zM1006.02,136.44h3.47v3.47h-3.47zM1012.67,136.44h3.47v3.47h-3.47zM1015.99,136.44h3.47v3.47h-3.47zM1019.31,136.44h3.47v3.47h-3.47zM1022.63,136.44h3.47v3.47h-3.47zM1029.27,136.44h3.47v3.47h-3.47zM1032.59,136.44h3.47v3.47h-3.47zM1035.91,136.44h3.47v3.47h-3.47zM1055.83,136.44h3.47v3.47h-3.47zM1059.16,136.44h3.47v3.47h-3.47zM1062.48,136.44h3.47v3.47h-3.47zM1065.80,136.44h3.47v3.47h-3.47zM1069.12,136.44h3.47v3.47h-3.47zM1072.44,136.44h3.47v3.47h-3.47zM1075.76,136.44h3.47v3.47h-3.47zM986.10,139.76h3.47v3.47h-3.47zM1006.02,139.76h3.47v3.47h-3.47zM1022.63,139.76h3.47v3.47h-3.47zM1025.95,139.76h3.47v3.47h-3.47zM1049.19,139.76h3.47v3.47h-3.47zM1052.51,139.76h3.47v3.47h-3.47zM1055.83,139.76h3.47v3.47h-3.47zM1069.12,139.76h3.47v3.47h-3.47zM1075.76,139.76h3.47v3.47h-3.47zM986.10,143.08h3.47v3.47h-3.47zM989.42,143.08h3.47v3.47h-3.47zM992.74,143.08h3.47v3.47h-3.47zM996.06,143.08h3.47v3.47h-3.47zM999.38,143.08h3.47v3.47h-3.47zM1002.70,143.08h3.47v3.47h-3.47zM1006.02,143.08h3.47v3.47h-3.47zM1012.67,143.08h3.47v3.47h-3.47zM1015.99,143.08h3.47v3.47h-3.47zM1019.31,143.08h3.47v3.47h-3.47zM1025.95,143.08h3.47v3.47h-3.47zM1029.27,143.08h3.47v3.47h-3.47zM1032.59,143.08h3.47v3.47h-3.47zM1035.91,143.08h3.47v3.47h-3.47zM1039.23,143.08h3.47v3.47h-3.47zM1042.55,143.08h3.47v3.47h-3.47zM1049.19,143.08h3.47v3.47h-3.47zM1055.83,143.08h3.47v3.47h-3.47zM1059.16,143.08h3.47v3.47h-3.47zM1065.80,143.08h3.47v3.47h-3.47zM1072.44,143.08h3.47v3.47h-3.47z" fill="#433d40"/>
</svg></body></html>
